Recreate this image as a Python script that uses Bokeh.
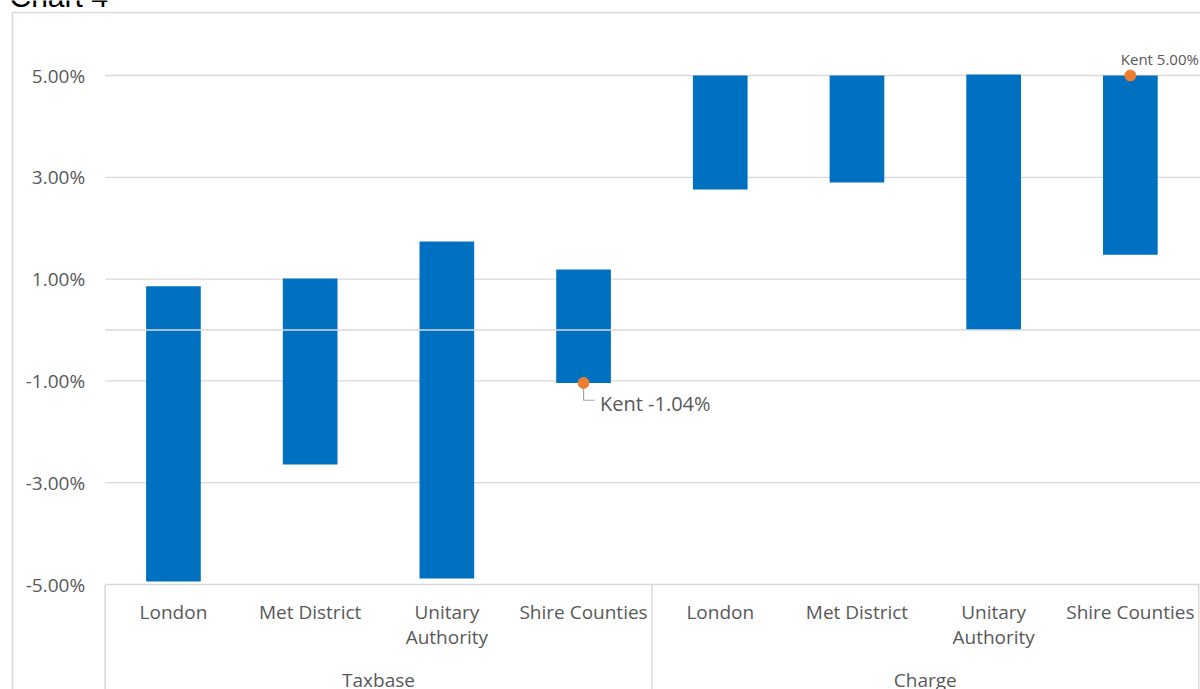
from bokeh.plotting import figure
from bokeh.models import Range1d, FixedTicker, CustomJSTickFormatter, ColumnDataSource
from bokeh.core.properties import value
from bokeh.embed import file_html
from bokeh.resources import INLINE

# ---- data ----
groups = ["Taxbase", "Charge"]
categories = ["London", "Met District", "Unitary\nAuthority", "Shire Counties"]
low_values = [-4.94, -2.64, -4.88, -1.04, 2.76, 2.90, 0.00, 1.48]
high_values = [0.86, 1.01, 1.74, 1.19, 5.00, 5.00, 5.02, 5.00]
kent_index = [3, 7]
kent_values = [-1.04, 5.00]
kent_labels = ["Kent -1.04%", "Kent 5.00%"]
y_ticks = [-5, -3, -1, 1, 3, 5]
chart_title = "Chart 4"

FONT = "Open Sans"
TXT = "#595959"
GRID = "#d9d9d9"

# pixel layout helpers (category width ~136.7px, 1% ~50.9px)
X0, XW = 104.6, 136.7
Y0, YW = 329.5, 50.9
def dx(px):
    return (px - X0) / XW
def dy(py):
    return (Y0 - py) / YW

n = len(categories) * len(groups)
xs = [i + 0.5 for i in range(n)]
src = ColumnDataSource(dict(x=xs, low=low_values, high=high_values,
                            cat=categories * len(groups)))

p = figure(width=1200, height=689, output_backend="svg", toolbar_location=None,
           x_range=Range1d(dx(0), dx(1200)), y_range=Range1d(dy(689), dy(0)),
           x_axis_location=None, min_border_left=0, min_border_top=0,
           min_border_right=0, min_border_bottom=0)
p.outline_line_color = None
p.background_fill_color = "white"
p.border_fill_color = "white"
p.xgrid.visible = False
p.ygrid.visible = False

# y axis drawn at the plot-area's left edge
ya = p.yaxis[0]
ya.fixed_location = 0
ya.ticker = FixedTicker(ticks=y_ticks)
ya.formatter = CustomJSTickFormatter(code="return tick.toFixed(2) + '%';")
ya.axis_line_color = None
ya.major_tick_line_color = None
ya.minor_tick_line_color = None
ya.major_tick_out = 0
ya.major_tick_in = 0
ya.major_label_standoff = 20
ya.major_label_text_font = FONT
ya.major_label_text_font_size = "19px"
ya.major_label_text_color = TXT

# horizontal gridlines
p.segment(x0=[0] * len(y_ticks), x1=[dx(1200)] * len(y_ticks), y0=y_ticks, y1=y_ticks,
          line_color=GRID, line_width=1.3)

# bars
p.vbar(x="x", bottom="low", top="high", width=0.4, source=src,
       fill_color="#0070C0", line_color=None)

# zero line above bars
p.segment(x0=[0], x1=[dx(1200)], y0=[0], y1=[0], line_color=GRID, line_width=1.5)

# category axis area
y_base = y_ticks[0]
p.segment(x0=[0, 4, 8], y0=[y_base] * 3, x1=[0, 4, 8], y1=[dy(700)] * 3,
          line_color=GRID, line_width=1.5)
p.text(x="x", y=y_base - 0.28, text="cat", source=src, text_align="center",
       text_baseline="top", text_font=value(FONT), text_font_size="19px",
       text_color=TXT, text_line_height=0.97)
p.text(x=[2, 6], y=[dy(679)] * 2, text=groups, text_align="center",
       text_baseline="middle", text_font=value(FONT), text_font_size="19px",
       text_color=TXT)

# Kent markers
kx = [xs[i] for i in kent_index]
p.line(x=[kx[0], kx[0], kx[0] + 0.08],
       y=[kent_values[0] - 0.1, kent_values[0] - 0.34, kent_values[0] - 0.34],
       line_color="#a6a6a6", line_width=1.2)
p.scatter(x=kx, y=kent_values, size=11, fill_color="#ED7D31", line_color="#ED7D31")
p.text(x=[kx[0] + 0.12], y=[kent_values[0] - 0.41], text=[kent_labels[0]],
       text_align="left", text_baseline="middle", text_font=value(FONT),
       text_font_size="20px", text_color=TXT)
p.text(x=[kx[1] - 0.07], y=[kent_values[1] + 0.33], text=[kent_labels[1]],
       text_align="left", text_baseline="middle", text_font=value(FONT),
       text_font_size="15px", text_color=TXT)

# outer chart border and cut-off heading
p.line(x=[dx(12), dx(12), dx(1210)], y=[dy(700), dy(12), dy(12)],
       line_color=GRID, line_width=1.5)
p.text(x=[dx(9)], y=[dy(-4)], text=[chart_title], text_align="left",
       text_baseline="alphabetic", text_font=value("Liberation Sans"),
       text_font_size="30px", text_color="black")

open("out.html", "w").write(file_html(p, INLINE))
